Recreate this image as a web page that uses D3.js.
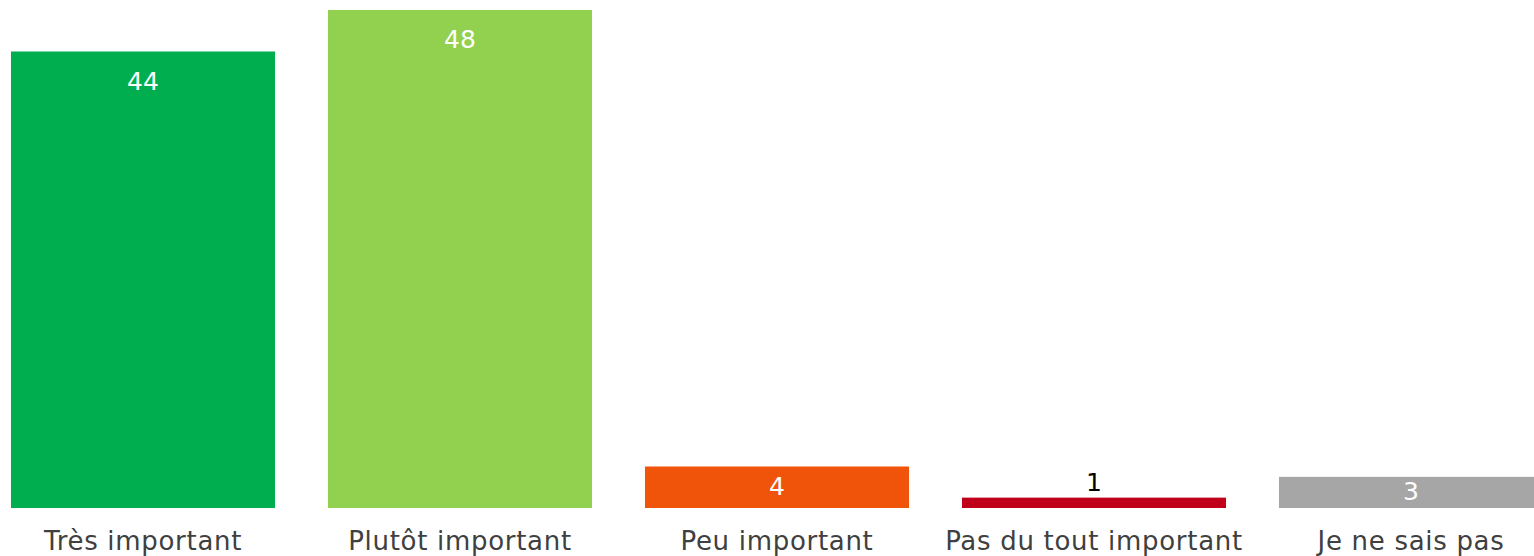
<!DOCTYPE html>
<html>
<head>
<meta charset="utf-8">
<script src="https://cdn.jsdelivr.net/npm/d3@7"></script>
<style>
  body { margin: 0; background: #fff; overflow: hidden; }
  svg { display: block; }
</style>
</head>
<body>
<script>
// chart data
var categories = ["Très important", "Plutôt important", "Peu important", "Pas du tout important", "Je ne sais pas"];
var values = [44, 48, 4, 1, 3];
var colors = ["#00AE4F", "#92D050", "#F0540A", "#C0001A", "#A6A6A6"];

var width = 1534, height = 556;
var baseY = 508, topY = 10;

var svg = d3.select("body").append("svg")
    .attr("width", width)
    .attr("height", height);

var x = d3.scaleBand()
    .domain(categories)
    .range([-15.5, 1569.5])
    .paddingInner(0.167)
    .paddingOuter(0.0835);

var y = d3.scaleLinear()
    .domain([0, 48])
    .range([baseY, topY]);

var data = categories.map(function(c, i) {
  return { cat: c, val: values[i], color: colors[i] };
});

function barH(d) { return baseY - y(d.val); }

// bars
svg.selectAll("rect.bar")
    .data(data)
  .enter().append("rect")
    .attr("class", "bar")
    .attr("x", function(d) { return x(d.cat); })
    .attr("y", function(d) { return y(d.val); })
    .attr("width", x.bandwidth())
    .attr("height", barH)
    .attr("fill", function(d) { return d.color; });

// value labels: inside near the top, centred for short bars, above if too thin
svg.selectAll("text.val")
    .data(data)
  .enter().append("text")
    .attr("class", "val")
    .attr("x", function(d) { return x(d.cat) + x.bandwidth() / 2; })
    .attr("y", function(d) {
      var h = barH(d);
      if (h < 25) return y(d.val) - 7;
      return y(d.val) + Math.min(h / 2 - 1, 29.5);
    })
    .attr("dy", function(d) { return barH(d) < 25 ? 0 : "0.34em"; })
    .attr("text-anchor", "middle")
    .attr("font-family", "'DejaVu Sans', Verdana, sans-serif")
    .attr("font-size", 25)
    .attr("fill", function(d) { return barH(d) < 25 ? "#000" : "#fff"; })
    .text(function(d) { return d.val; });

// category labels
svg.selectAll("text.cat")
    .data(data)
  .enter().append("text")
    .attr("class", "cat")
    .attr("x", function(d) { return x(d.cat) + x.bandwidth() / 2; })
    .attr("y", 550)
    .attr("text-anchor", "middle")
    .attr("font-family", "'DejaVu Sans', Verdana, sans-serif")
    .attr("font-size", 26)
    .attr("letter-spacing", 0.7)
    .attr("fill", "#404040")
    .text(function(d) { return d.cat; });
</script>
</body>
</html>
